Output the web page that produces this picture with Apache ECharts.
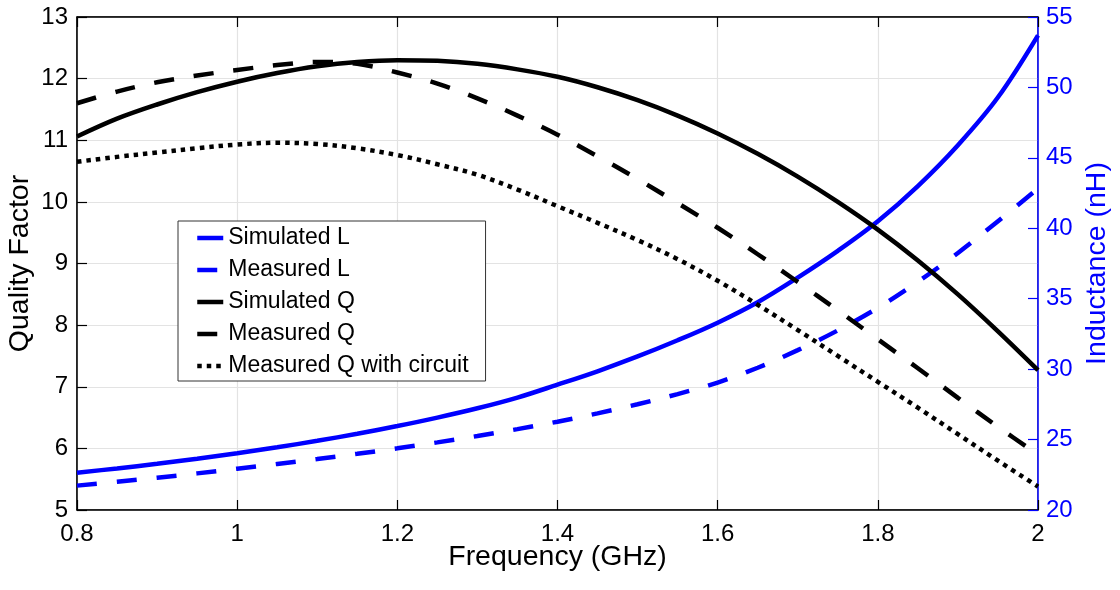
<!DOCTYPE html>
<html>
<head>
<meta charset="utf-8">
<script src="https://cdn.jsdelivr.net/npm/echarts@6/dist/echarts.min.js"></script>
<style>
  html, body { margin: 0; padding: 0; background: #fff; }
  #chart { width: 1120px; height: 590px; }
</style>
</head>
<body>
<div id="chart"></div>
<script>
// Frequency sweep (GHz)
const freq = [0.80, 0.85, 0.90, 0.95, 1.00, 1.05, 1.10, 1.15, 1.20, 1.25, 1.30, 1.35, 1.40,
              1.45, 1.50, 1.55, 1.60, 1.65, 1.70, 1.75, 1.80, 1.85, 1.90, 1.95, 2.00];

// Inductance (nH), right axis
const simulatedL = [22.65, 22.95, 23.28, 23.64, 24.03, 24.45, 24.91, 25.41, 25.96, 26.56, 27.22, 27.98, 28.90,
                    29.85, 30.90, 32.05, 33.30, 34.75, 36.50, 38.40, 40.50, 43.00, 45.90, 49.30, 53.70];
const measuredL = [21.73, 22.00, 22.29, 22.60, 22.93, 23.27, 23.62, 23.99, 24.38, 24.80, 25.25, 25.74, 26.27,
                   26.86, 27.51, 28.23, 29.05, 30.10, 31.35, 32.75, 34.35, 36.20, 38.25, 40.50, 42.83];

// Quality factor, left axis
const simulatedQ = [11.06, 11.35, 11.58, 11.78, 11.95, 12.09, 12.20, 12.27, 12.30, 12.29, 12.24, 12.15, 12.03,
                    11.86, 11.65, 11.40, 11.11, 10.78, 10.41, 10.00, 9.55, 9.05, 8.50, 7.90, 7.27];
const measuredQ = [11.60, 11.79, 11.94, 12.05, 12.14, 12.22, 12.27, 12.24, 12.10, 11.92, 11.68, 11.40, 11.09,
                   10.74, 10.37, 9.98, 9.58, 9.15, 8.70, 8.24, 7.77, 7.30, 6.82, 6.35, 5.90];
const measuredQCircuit = [10.65, 10.73, 10.80, 10.87, 10.93, 10.96, 10.94, 10.87, 10.76, 10.61, 10.44, 10.20, 9.93,
                          9.66, 9.38, 9.07, 8.72, 8.33, 7.92, 7.50, 7.08, 6.66, 6.23, 5.80, 5.38];

// Axis ranges and tick steps
const xTicks = { min: 0.8, max: 2, step: 0.2 };
const qTicks = { min: 5, max: 13, step: 1 };
const lTicks = { min: 20, max: 55, step: 5 };

const FONT = '"Liberation Sans", Arial, Helvetica, sans-serif';
const BLUE = '#0000ff';
const BLACK = '#000000';
const GRIDC = '#e3e3e3';
const LW = 4.5;
const NAME_SIZE = 28.5;

const pairs = (ys) => freq.map((f, i) => [f, ys[i]]);

function lineSeries(name, ys, color, yIndex, dash) {
  return {
    name: name,
    type: 'line',
    yAxisIndex: yIndex,
    data: pairs(ys),
    smooth: 0.35,
    showSymbol: false,
    color: color,
    lineStyle: { color: color, width: LW, type: dash || 'solid', cap: 'butt' },
    emphasis: { disabled: true },
    z: 3
  };
}

const chart = echarts.init(document.getElementById('chart'), null, { renderer: 'canvas' });

chart.setOption({
  animation: false,
  backgroundColor: '#fff',
  textStyle: { fontFamily: FONT },
  grid: {
    left: 77, right: 82, top: 17, bottom: 80,
    containLabel: false, outerBoundsMode: 'none',
    show: true, borderColor: BLACK, borderWidth: 1, backgroundColor: 'transparent'
  },
  legend: {
    orient: 'vertical',
    left: 178,
    top: 221,
    padding: [5, 17, 3, 17],
    itemGap: 8,
    itemWidth: 26,
    itemHeight: 14,
    // keep only the line sample in each legend entry
    itemStyle: { opacity: 0, borderWidth: 0 },
    lineStyle: { width: LW },
    backgroundColor: '#fff',
    borderColor: '#333',
    borderWidth: 1,
    borderRadius: 0,
    textStyle: { fontFamily: FONT, fontSize: 23, color: BLACK, lineHeight: 24 },
    data: ['Simulated L', 'Measured L', 'Simulated Q', 'Measured Q', 'Measured Q with circuit']
  },
  xAxis: [{
    type: 'value',
    position: 'bottom',
    min: xTicks.min, max: xTicks.max, interval: xTicks.step,
    name: 'Frequency (GHz)',
    nameLocation: 'middle',
    nameGap: 33,
    nameMoveOverlap: false,
    nameTextStyle: { fontFamily: FONT, fontSize: NAME_SIZE, color: BLACK },
    axisLine: { show: true, lineStyle: { color: BLACK, width: 1.5 } },
    axisTick: { show: true, inside: true, length: 10, lineStyle: { color: BLACK, width: 1.2 } },
    axisLabel: { margin: 12, fontFamily: FONT, fontSize: 24, color: BLACK },
    splitLine: { show: true, lineStyle: { color: GRIDC, width: 1.2 } }
  }, {
    type: 'value',
    position: 'top',
    min: xTicks.min, max: xTicks.max, interval: xTicks.step,
    axisLine: { show: true, lineStyle: { color: BLACK, width: 1.5 } },
    axisTick: { show: true, inside: true, length: 10, lineStyle: { color: BLACK, width: 1.2 } },
    axisLabel: { show: false },
    splitLine: { show: false }
  }],
  yAxis: [{
    type: 'value',
    position: 'left',
    min: qTicks.min, max: qTicks.max, interval: qTicks.step,
    name: 'Quality Factor',
    nameLocation: 'middle',
    nameGap: 42,
    nameMoveOverlap: false,
    nameTextStyle: { fontFamily: FONT, fontSize: NAME_SIZE, color: BLACK },
    axisLine: { show: true, lineStyle: { color: BLACK, width: 1.5 } },
    axisTick: { show: true, inside: true, length: 10, lineStyle: { color: BLACK, width: 1.2 } },
    axisLabel: { margin: 9, fontFamily: FONT, fontSize: 24, color: BLACK },
    splitLine: { show: true, lineStyle: { color: GRIDC, width: 1.2 } }
  }, {
    type: 'value',
    position: 'right',
    min: lTicks.min, max: lTicks.max, interval: lTicks.step,
    name: 'Inductance (nH)',
    nameLocation: 'middle',
    nameGap: 45,
    nameMoveOverlap: false,
    nameTextStyle: { fontFamily: FONT, fontSize: NAME_SIZE, color: BLUE },
    axisLine: { show: true, lineStyle: { color: BLUE, width: 1.5 } },
    axisTick: { show: true, inside: true, length: 10, lineStyle: { color: BLUE, width: 1.2 } },
    axisLabel: { margin: 8, fontFamily: FONT, fontSize: 24, color: BLUE },
    splitLine: { show: false }
  }],
  series: [
    lineSeries('Simulated L', simulatedL, BLUE, 1),
    lineSeries('Measured L', measuredL, BLUE, 1, [20, 20]),
    lineSeries('Simulated Q', simulatedQ, BLACK, 0),
    lineSeries('Measured Q', measuredQ, BLACK, 0, [20, 20]),
    lineSeries('Measured Q with circuit', measuredQCircuit, BLACK, 0, [4.5, 5])
  ]
});
</script>
</body>
</html>
